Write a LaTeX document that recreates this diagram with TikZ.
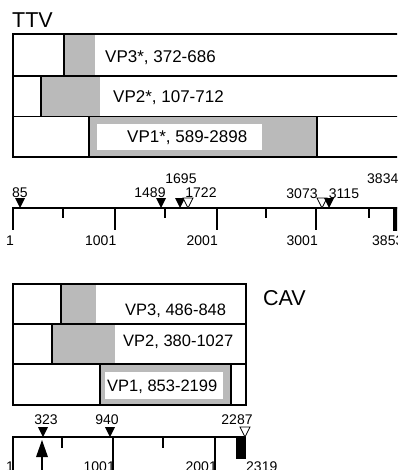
\documentclass[tikz,border=0pt]{standalone}
\usepackage{fontspec}
\setmainfont{Liberation Sans}
\begin{document}
\begin{tikzpicture}[x=1pt,y=-1pt,
  stip/.style={fill=black!27},
  frame/.style={line width=2pt},
  div/.style={line width=1.4pt},
  axisline/.style={line width=1.6pt},
  majortick/.style={line width=1.8pt},
  minortick/.style={line width=1.3pt},
  lbl/.style={font=\fontsize{17}{20}\selectfont, inner sep=0pt, anchor=base west},
  clbl/.style={font=\fontsize{16.5}{20}\selectfont, inner sep=0pt, anchor=base west},
  num/.style={font=\fontsize{14}{16}\selectfont, inner sep=0pt},
  ttl/.style={font=\fontsize{21.5}{24}\selectfont, inner sep=0pt, anchor=base west},
  downtri/.pic={\path[pic actions] (-5,-10) -- (5,-10) -- (0,0) -- cycle;},
  filledmark/.style={fill=black},
  openmark/.style={draw=black, fill=white, line width=0.8pt}
]
\useasboundingbox (0,0) rectangle (397,470);
\clip (0,0) rectangle (397,470);

% ---------------- TTV ----------------
\node[ttl] (ttvtitle) at (12,27.5) {TTV};
% row 1
\fill[stip] (64,34) rectangle (95,76);
\draw[div] (64,34) -- (64,76);
% row 2
\fill[stip] (41,76) rectangle (100,116.5);
\draw[div] (41,76) -- (41,116.5);
% row 3
\fill[stip] (89,116.5) rectangle (317,157);
\fill[white] (97,124) rectangle (262,150);
\draw[div] (89,116.5) -- (89,157);
\draw[div] (317,116.5) -- (317,157);
% frame
\draw[div] (12.7,76) -- (402,76);
\draw[div] (12.7,116.5) -- (402,116.5);
\draw[frame] (12.7,34) rectangle (402,157);
\node[lbl] (vp3t) at (105,63) {VP3*, 372-686};
\node[lbl] (vp2t) at (113,103) {VP2*, 107-712};
\node[lbl] (vp1t) at (127,143) {VP1*, 589-2898};

% axis
\draw[axisline] (12.7,208) -- (402,208);
\foreach \x in {12.7,115,217,316} \draw[majortick] (\x,207) -- (\x,230);
\foreach \x in {63,165,266,369} \draw[minortick] (\x,207) -- (\x,218);
\fill (393,207) rectangle (399,231);
\node[num, anchor=base east] (t1) at (14,245) {1};
\node[num, anchor=base east] (t1001) at (116.5,245) {1001};
\node[num, anchor=base east] (t2001) at (218,245) {2001};
\node[num, anchor=base east] (t3001) at (318,245) {3001};
\node[num, anchor=base west] (t3853) at (372,245) {3853};
% markers
\pic[filledmark] at (20,208) {downtri};
\pic[filledmark] at (161,208) {downtri};
\pic[filledmark] at (180,208) {downtri};
\pic[openmark] at (188,208) {downtri};
\pic[openmark] at (322,208) {downtri};
\pic[filledmark] at (329,208) {downtri};
\node[num, anchor=base] (m85) at (20,197.5) {85};
\node[num, anchor=base] (m1489) at (150,197.5) {1489};
\node[num, anchor=base] (m1695) at (181,183) {1695};
\node[num, anchor=base] (m1722) at (201,197.5) {1722};
\node[num, anchor=base] (m3073) at (302,198) {3073};
\node[num, anchor=base] (m3115) at (344,198) {3115};
\node[num, anchor=base west] (m3834) at (367,183) {3834};

% ---------------- CAV ----------------
\node[ttl] (cavtitle) at (263,305) {CAV};
\fill[stip] (61,284) rectangle (96,324);
\draw[div] (61,284) -- (61,324);
\fill[stip] (52,324) rectangle (115,364);
\draw[div] (52,324) -- (52,364);
\fill[stip] (100,364) rectangle (231,405);
\fill[white] (105,372) rectangle (223,399);
\draw[div] (100,364) -- (100,405);
\draw[div] (231,364) -- (231,405);
\draw[div] (12.7,324) -- (246,324);
\draw[div] (12.7,364) -- (246,364);
\draw[frame] (12.7,284) rectangle (246,405);
\node[clbl] (cvp3) at (125,315) {VP3, 486-848};
\node[clbl] (cvp2) at (123,346) {VP2, 380-1027};
\node[clbl] (cvp1) at (107,391) {VP1, 853-2199};

% axis
\draw[axisline] (12.7,437) -- (237,437);
\foreach \x in {12.7,113,215} \draw[majortick] (\x,436) -- (\x,472);
\foreach \x in {62,163} \draw[minortick] (\x,436) -- (\x,448);
\fill (236,436) rectangle (246,459);
\node[num, anchor=north east] (c1) at (14,462) {1};
\node[num, anchor=north east] (c1001) at (115,462) {1001};
\node[num, anchor=north east] (c2001) at (217,462) {2001};
\node[num, anchor=north west] (c2319) at (246,462) {2319};
\pic[filledmark] at (43,437) {downtri};
\pic[filledmark] at (110,437) {downtri};
\pic[openmark] at (245,437) {downtri};
\node[num, anchor=base] (m323) at (46,424) {323};
\node[num, anchor=base] (m940) at (107,424) {940};
\node[num, anchor=base] (m2287) at (237,424) {2287};
% upward arrow
\fill (42,440) -- (48,457) -- (36,457) -- cycle;
\draw[line width=1.8pt] (42,456) -- (42,472);
\end{tikzpicture}
\end{document}
